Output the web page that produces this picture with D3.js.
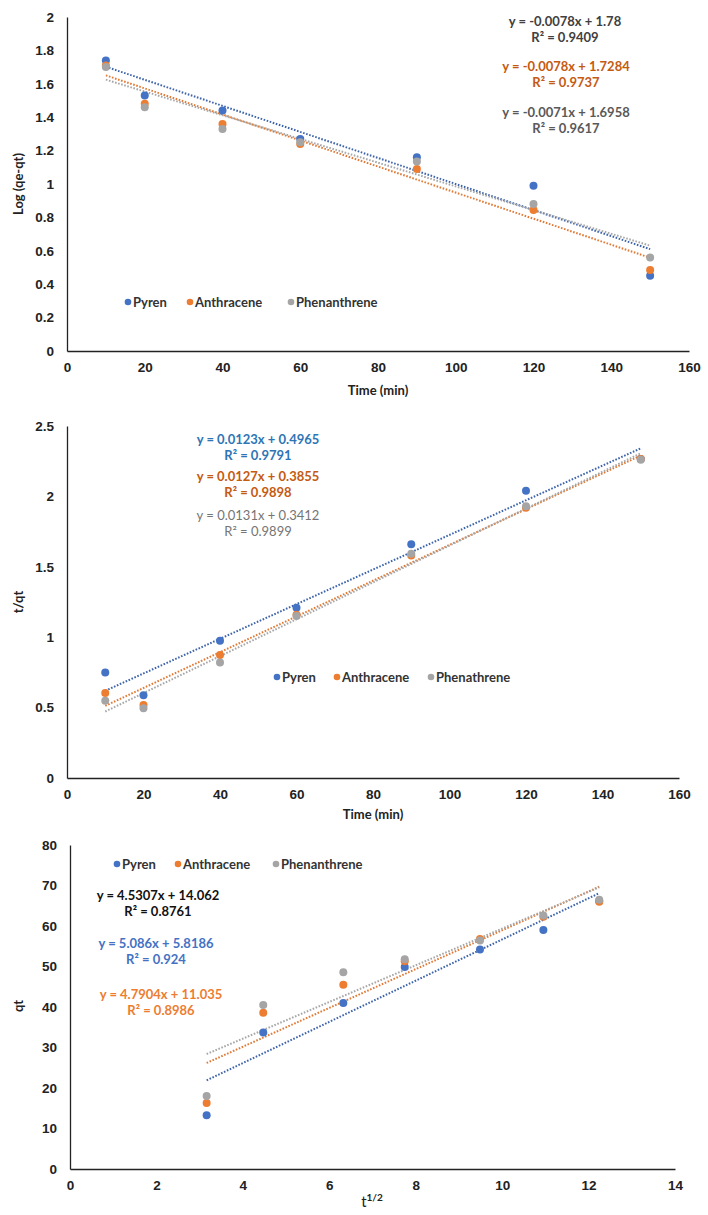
<!DOCTYPE html>
<html><head><meta charset="utf-8">
<script src="https://cdn.jsdelivr.net/npm/d3@7"></script>
<style>
body{margin:0;background:#fff;}
svg{display:block;font-family:Lato,"Open Sans",sans-serif;}
</style></head>
<body><svg id="c" width="708" height="1215"></svg>
<script>
// ---------- DATA ----------
const seriesNames = ["Pyren", "Anthracene", "Phenanthrene"];
const seriesNames2 = ["Pyren", "Anthracene", "Phenathrene"];
const timeMin = [10, 20, 40, 60, 90, 120, 150];
const sqrtTime = [3.162, 4.472, 6.325, 7.746, 9.487, 10.954, 12.247];

// Chart 1: pseudo-first-order Log(qe-qt)
const logPyren = [1.74, 1.53, 1.44, 1.27, 1.16, 0.99, 0.45];
const logAnthracene = [1.71, 1.48, 1.36, 1.24, 1.09, 0.845, 0.485];
const logPhenanthrene = [1.70, 1.46, 1.33, 1.25, 1.135, 0.88, 0.56];
const fit1 = [[-0.0078, 1.78], [-0.0078, 1.7284], [-0.0071, 1.6958]];
const eq1 = [["y = -0.0078x + 1.78", "R² = 0.9409"], ["y = -0.0078x + 1.7284", "R² = 0.9737"], ["y = -0.0071x + 1.6958", "R² = 0.9617"]];
const yTicks1 = [0, 0.2, 0.4, 0.6, 0.8, 1, 1.2, 1.4, 1.6, 1.8, 2];
const xTicks1 = [0, 20, 40, 60, 80, 100, 120, 140, 160];

// Chart 2: pseudo-second-order t/qt
const tqPyren = [0.75, 0.587, 0.975, 1.21, 1.66, 2.04, 2.265];
const tqAnthracene = [0.604, 0.518, 0.873, 1.16, 1.58, 1.92, 2.265];
const tqPhenanthrene = [0.549, 0.495, 0.821, 1.15, 1.593, 1.93, 2.26];
const fit2 = [[0.0123, 0.4965], [0.0127, 0.3855], [0.0131, 0.3412]];
const eq2 = [["y = 0.0123x + 0.4965", "R² = 0.9791"], ["y = 0.0127x + 0.3855", "R² = 0.9898"], ["y = 0.0131x + 0.3412", "R² = 0.9899"]];
const yTicks2 = [0, 0.5, 1, 1.5, 2, 2.5];

// Chart 3: intraparticle diffusion qt vs t^1/2
const qtPyren = [13.3, 33.7, 41.0, 49.9, 54.2, 59.0, 66.2];
const qtAnthracene = [16.3, 38.6, 45.5, 51.3, 56.8, 62.3, 66.0];
const qtPhenanthrene = [18.0, 40.5, 48.6, 51.8, 56.4, 62.6, 66.5];
const fit3 = [[5.086, 5.8186], [4.7904, 11.035], [4.5307, 14.062]];
const eq3 = [["y = 4.5307x + 14.062", "R² = 0.8761"], ["y = 5.086x + 5.8186", "R² = 0.924"], ["y = 4.7904x + 11.035", "R² = 0.8986"]];
const yTicks3 = [0, 10, 20, 30, 40, 50, 60, 70, 80];
const xTicks3 = [0, 2, 4, 6, 8, 10, 12, 14];

// ---------- STYLE ----------
const dotColors = ["#4472C4", "#ED7D31", "#A5A5A5"];
const lineColors = ["#3E64AA", "#E07A36", "#A8A8A8"];
const svg = d3.select("#c");
const fmt = d3.format("~g");

function panel(cfg) {
  const x = d3.scaleLinear().domain(cfg.xDomain).range(cfg.xRange);
  const y = d3.scaleLinear().domain(cfg.yDomain).range(cfg.yRange);
  const g = svg.append("g");

  const ya = g.append("g").attr("transform", `translate(${cfg.xRange[0]},0)`)
    .call(d3.axisLeft(y).tickValues(cfg.yTicks).tickSize(0).tickPadding(13).tickFormat(fmt));
  const xa = g.append("g").attr("transform", `translate(0,${cfg.yRange[0]})`)
    .call(d3.axisBottom(x).tickValues(cfg.xTicks).tickSize(0).tickPadding(11).tickFormat(fmt));
  [ya, xa].forEach(a => {
    a.select(".domain").attr("stroke", "#222").attr("stroke-width", 1.3);
    a.selectAll("text").attr("font-size", 13.5).attr("font-weight", "bold").attr("fill", "#222");
  });

  // trendlines
  cfg.fits.forEach((f, i) => {
    const xs = d3.extent(cfg.xs);
    g.append("path")
      .datum(xs.map(v => [v, f[0] * v + f[1]]))
      .attr("d", d3.line().x(d => x(d[0])).y(d => y(d[1])))
      .attr("fill", "none").attr("stroke", lineColors[i])
      .attr("stroke-width", 2).attr("stroke-dasharray", "1.6,1.6");
  });

  // points
  cfg.series.forEach((s, i) => {
    g.append("g").selectAll("circle").data(s).join("circle")
      .attr("cx", (d, j) => x(cfg.xs[j])).attr("cy", d => y(d))
      .attr("r", 4).attr("fill", dotColors[i]);
  });

  // legend
  cfg.legend.names.forEach((n, i) => {
    const lx = cfg.legend.xs[i];
    g.append("circle").attr("cx", lx).attr("cy", cfg.legend.y).attr("r", 3.3).attr("fill", dotColors[i]);
    g.append("text").attr("x", lx + 5).attr("y", cfg.legend.y + 4.5)
      .attr("font-size", 13).attr("font-weight", "bold").attr("fill", "#333").text(n);
  });

  // equations
  cfg.eqs.forEach((e, i) => {
    const p = cfg.eqPos[i];
    e.forEach((line, k) => {
      g.append("text").attr("x", p.x).attr("y", p.y + k * 16)
        .attr("text-anchor", "middle").attr("font-size", 13)
        .attr("font-weight", p.w).attr("fill", p.c).text(line);
    });
  });

  // axis titles
  const xt = g.append("text").attr("x", cfg.xTitle.x).attr("y", cfg.xTitle.y)
    .attr("text-anchor", "middle").attr("font-size", 13).attr("font-weight", "bold").attr("fill", "#222");
  if (cfg.xTitle.sup) {
    xt.append("tspan").text(cfg.xTitle.text).attr("font-size", 15).attr("font-weight", "normal");
    xt.append("tspan").text(cfg.xTitle.sup).attr("dy", -6).attr("font-size", 10);
  } else xt.text(cfg.xTitle.text);
  g.append("text").attr("transform", `translate(${cfg.yTitle.x},${cfg.yTitle.y}) rotate(-90)`)
    .attr("text-anchor", "middle").attr("font-size", 13).attr("font-weight", "bold").attr("fill", "#222")
    .text(cfg.yTitle.text);
}

panel({
  xDomain: [0, 160], xRange: [67, 689], yDomain: [0, 2], yRange: [351, 17],
  yTicks: yTicks1, xTicks: xTicks1, xs: timeMin,
  series: [logPyren, logAnthracene, logPhenanthrene], fits: fit1,
  legend: { xs: [128, 190, 291], y: 302, names: seriesNames },
  eqs: eq1,
  eqPos: [{ x: 565, y: 26, c: "#404040", w: "bold" }, { x: 566, y: 71, c: "#C55A11", w: "bold" }, { x: 566, y: 117, c: "#595959", w: "bold" }],
  xTitle: { x: 378, y: 395, text: "Time (min)" }, yTitle: { x: 23, y: 184, text: "Log (qe-qt)" }
});

panel({
  xDomain: [0, 160], xRange: [67, 679], yDomain: [0, 2.5], yRange: [778, 426],
  yTicks: yTicks2, xTicks: xTicks1, xs: timeMin,
  series: [tqPyren, tqAnthracene, tqPhenanthrene], fits: fit2,
  legend: { xs: [277, 337, 431], y: 677, names: seriesNames2 },
  eqs: eq2,
  eqPos: [{ x: 258, y: 444, c: "#2E75B6", w: "bold" }, { x: 258, y: 481, c: "#C55A11", w: "bold" }, { x: 258, y: 520, c: "#757575", w: "normal" }],
  xTitle: { x: 373, y: 819, text: "Time (min)" }, yTitle: { x: 23, y: 602, text: "t/qt" }
});

panel({
  xDomain: [0, 14], xRange: [70, 675], yDomain: [0, 80], yRange: [1169, 845],
  yTicks: yTicks3, xTicks: xTicks3, xs: sqrtTime,
  series: [qtPyren, qtAnthracene, qtPhenanthrene], fits: fit3,
  legend: { xs: [117, 178, 276], y: 864, names: seriesNames },
  eqs: eq3,
  eqPos: [{ x: 158, y: 900, c: "#111", w: "bold" }, { x: 156, y: 948, c: "#4472C4", w: "bold" }, { x: 161, y: 999, c: "#ED7D31", w: "bold" }],
  xTitle: { x: 372, y: 1207, text: "t", sup: "1/2" }, yTitle: { x: 23, y: 1006, text: "qt" }
});
</script></body></html>
